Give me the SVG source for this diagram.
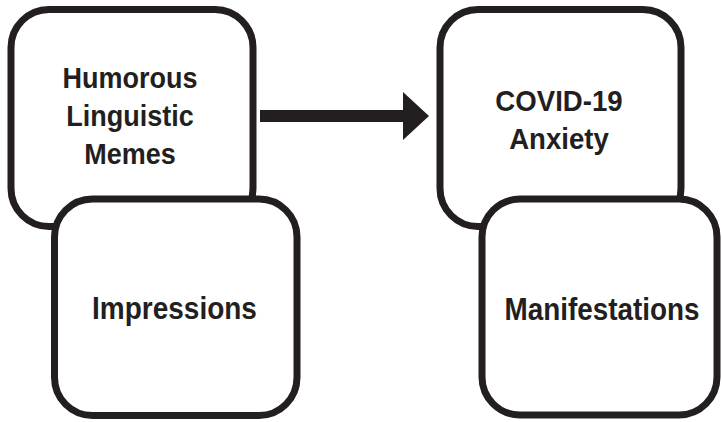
<svg xmlns="http://www.w3.org/2000/svg" width="722" height="422" viewBox="0 0 722 422">
<style>
.box{fill:#fff;stroke:#231f20;stroke-width:7}
.lbl{font-family:"Liberation Sans",Arial,sans-serif;font-weight:bold;font-size:30px;fill:#231f20;text-anchor:middle}
.big{font-size:32px}
</style>
<rect width="722" height="422" fill="#fff"/>
<g id="memes">
<rect class="box" x="11" y="9.5" width="242" height="217" rx="38"/>
<text class="lbl" transform="translate(130 0) scale(0.9 1)"><tspan x="0" y="88">Humorous</tspan><tspan x="0" y="126">Linguistic</tspan><tspan x="0" y="164">Memes</tspan></text>
</g>
<g id="impressions">
<rect class="box" x="54.5" y="199" width="242.5" height="216.5" rx="38"/>
<text class="lbl big" transform="translate(174.5 0) scale(0.875 1)" x="0" y="319">Impressions</text>
</g>
<g id="anxiety">
<rect class="box" x="440" y="9.5" width="241" height="217" rx="38"/>
<text class="lbl" transform="translate(559 0) scale(0.92 1)"><tspan x="0" y="111">COVID-19</tspan><tspan x="0" y="149">Anxiety</tspan></text>
</g>
<g id="manifestations">
<rect class="box" x="482" y="199" width="235" height="216" rx="38"/>
<text class="lbl big" transform="translate(602 0) scale(0.87 1)" x="0" y="320">Manifestations</text>
</g>
<g id="connectors">
<rect x="260" y="110" width="144" height="12" fill="#231f20"/>
<polygon points="403,92 429,116 403,140" fill="#231f20"/>
</g>
</svg>
